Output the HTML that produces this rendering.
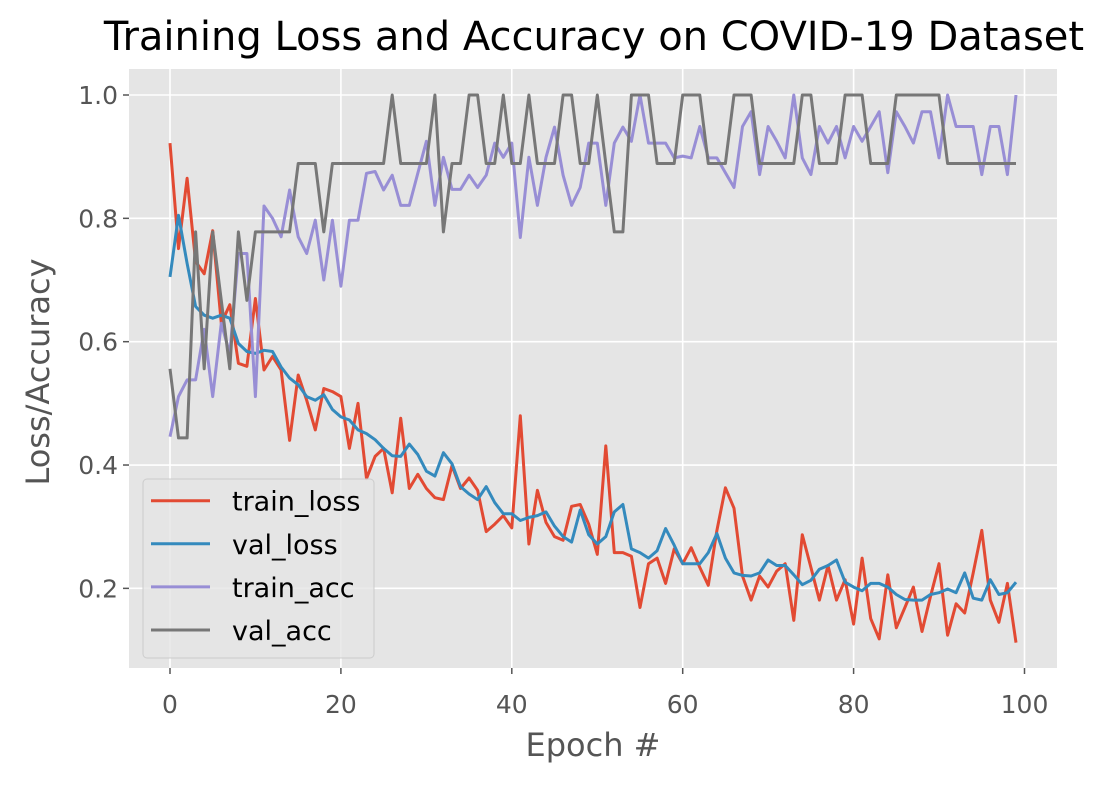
<!DOCTYPE html>
<html><head><meta charset="utf-8"><style>
html,body{margin:0;padding:0;background:#fff;}
svg text{font-family:"DejaVu Sans","Liberation Sans",sans-serif;}
</style></head><body>
<svg id="chart" width="1103" height="783" xmlns="http://www.w3.org/2000/svg">
<rect x="129" y="69" width="928" height="599" fill="#E5E5E5"/>
<g id="grid"></g>
<g id="series"></g>
<g id="axes"></g>
<text x="594" y="50" text-anchor="middle" font-size="40" fill="#000">Training Loss and Accuracy on COVID-19 Dataset</text>
<text x="593" y="756" text-anchor="middle" font-size="32" fill="#555">Epoch #</text>
<text x="49" y="372" text-anchor="middle" font-size="32" fill="#555" transform="rotate(-90 49 372)">Loss/Accuracy</text>
<g id="legend"></g>
</svg>
<script>
const epochs = Array.from({length:100},(_, i)=>i);
const trainLoss = [.922,.751,.865,.73,.71,.78,.63,.66,.565,.56,.67,.554,.576,.554,.44,.546,.505,.457,.524,.519,.511,.427,.5,.378,.414,.427,
.355,.476,.362,.385,.362,.347,.344,.399,.362,.379,.359,.292,.304,.318,.298,.48,.272,.359,.307,.284,.278,.333,.336,.304,.255,.431,.258,.258,
.252,.169,.24,.249,.208,.264,.24,.266,.234,.205,.294,.363,.33,.22,.181,.22,.202,.228,.24,.148,.287,.234,.181,.237,.181,
.214,.142,.249,.151,.118,.222,.136,.169,.202,.13,.187,.24,.124,.175,.16,.225,.294,.181,.145,.208,.112];
const valLoss = [.705,.805,.727,.657,.643,.638,.643,.638,.597,.584,.581,.586,.584,.559,.541,.53,.511,.505,.514,.49,.478,.473,.457,.451,.441,.427,
.415,.414,.434,.417,.39,.382,.42,.402,.365,.353,.344,.365,.339,.321,.321,.31,.315,.318,.324,.301,.284,.275,.327,.287,.272,.284,.324,.336,
.264,.258,.249,.261,.297,.27,.24,.24,.24,.258,.289,.249,.225,.221,.22,.225,.246,.237,.237,.222,.206,.213,.231,.237,.246,
.21,.202,.196,.208,.208,.202,.19,.182,.181,.181,.19,.193,.199,.193,.225,.184,.181,.214,.19,.193,.21];
const trainAcc = [.446,.511,.538,.538,.62,.511,.63,.58,.743,.743,.511,.82,.80,.77,.846,.77,.743,.797,.70,.797,.69,.797,.797,.873,.876,.846,
.87,.821,.821,.873,.925,.821,.899,.847,.847,.87,.85,.87,.922,.899,.922,.769,.899,.821,.899,.948,.87,.821,.85,.922,.922,.821,.922,.948,
.925,1.0,.922,.922,.922,.898,.901,.898,.949,.898,.898,.874,.85,.949,.973,.871,.949,.925,.898,1.0,.898,.871,.949,.922,.949,
.898,.949,.925,.949,.973,.874,.973,.949,.922,.973,.973,.898,1.0,.949,.949,.949,.871,.949,.949,.871,1.0];
const valAcc = [.556,.444,.444,.778,.556,.778,.667,.556,.778,.667,.778,.778,.778,.778,.778,.889,.889,.889,.778,.889,.889,.889,.889,.889,.889,.889,
1,.889,.889,.889,.889,1,.778,.889,.889,1,1,.889,.889,1,.889,.889,1,.889,.889,.889,1,1,.889,.889,1,.889,.778,.778,
1,1,1,.889,.889,.889,1,1,1,.889,.889,.889,1,1,1,.889,.889,.889,.889,.889,1,1,.889,.889,.889,
1,1,1,.889,.889,.889,1,1,1,1,1,1,.889,.889,.889,.889,.889,.889,.889,.889,.889];
const xTicks = [0,20,40,60,80,100];
const yTicks = [0.2,0.4,0.6,0.8,1.0];
const yTickLabels = ["0.2","0.4","0.6","0.8","1.0"];
const seriesNames = ["train_loss","val_loss","train_acc","val_acc"];

const NS="http://www.w3.org/2000/svg";
const X0=129, X1=1057, Y0=69, Y1=668;
function xs(v){return 170 + v*8.545;}
function ys(v){return 95 + (1-v)*616.7;}
function mk(tag, attrs, parent){const e=document.createElementNS(NS,tag);for(const k in attrs)e.setAttribute(k,attrs[k]);parent.appendChild(e);return e;}
const grid=document.getElementById('grid'), axes=document.getElementById('axes'), ser=document.getElementById('series'), leg=document.getElementById('legend');
xTicks.forEach(t=>{
  const l=mk('line',{x1:xs(t),x2:xs(t),y1:Y0,y2:Y1,stroke:'#fff','stroke-width':1.6},grid);
  
  
  const tk=mk('line',{x1:xs(t),x2:xs(t),y1:Y1,y2:Y1+6,stroke:'#555','stroke-width':1.5},axes);
  
  
  const tx=mk('text',{x:xs(t),y:713,'text-anchor':'middle','font-size':25,fill:'#555'},axes);
  tx.textContent=String(t);
  
  
});
yTicks.forEach((t,i)=>{
  const l=mk('line',{x1:X0,x2:X1,y1:ys(t),y2:ys(t),stroke:'#fff','stroke-width':1.6},grid);
  
  
  const tk=mk('line',{x1:X0-6,x2:X0,y1:ys(t),y2:ys(t),stroke:'#555','stroke-width':1.5},axes);
  
  
  const tx=mk('text',{x:X0-11,y:ys(t)+9,'text-anchor':'end','font-size':25,fill:'#555'},axes);
  tx.textContent=yTickLabels[i];
  
  
});
const colors=['#E24A33','#348ABD','#988ED5','#777777'];
[trainLoss,valLoss,trainAcc,valAcc].forEach((arr,k)=>{
  const d=arr.map((v,i)=>(i?'L':'M')+xs(epochs[i]).toFixed(1)+' '+ys(v).toFixed(1)).join(' ');
  const p=mk('path',{d:d,fill:'none',stroke:colors[k],'stroke-width':3,'stroke-linejoin':'round'},ser);
  
  
});
const box=mk('rect',{x:143,y:479,width:231,height:179,rx:4,fill:'#E5E5E5',stroke:'#ccc','stroke-width':1,'fill-opacity':0.8},leg);


seriesNames.forEach((n,k)=>{
  const y=500.7+k*43.1;
  const l=mk('line',{x1:151,x2:210,y1:y,y2:y,stroke:colors[k],'stroke-width':3},leg);
  
  
  const t=mk('text',{x:232,y:y+10,'font-size':27,fill:'#000'},leg);
  t.textContent=n;
  
  
});
</script>
</body></html>
